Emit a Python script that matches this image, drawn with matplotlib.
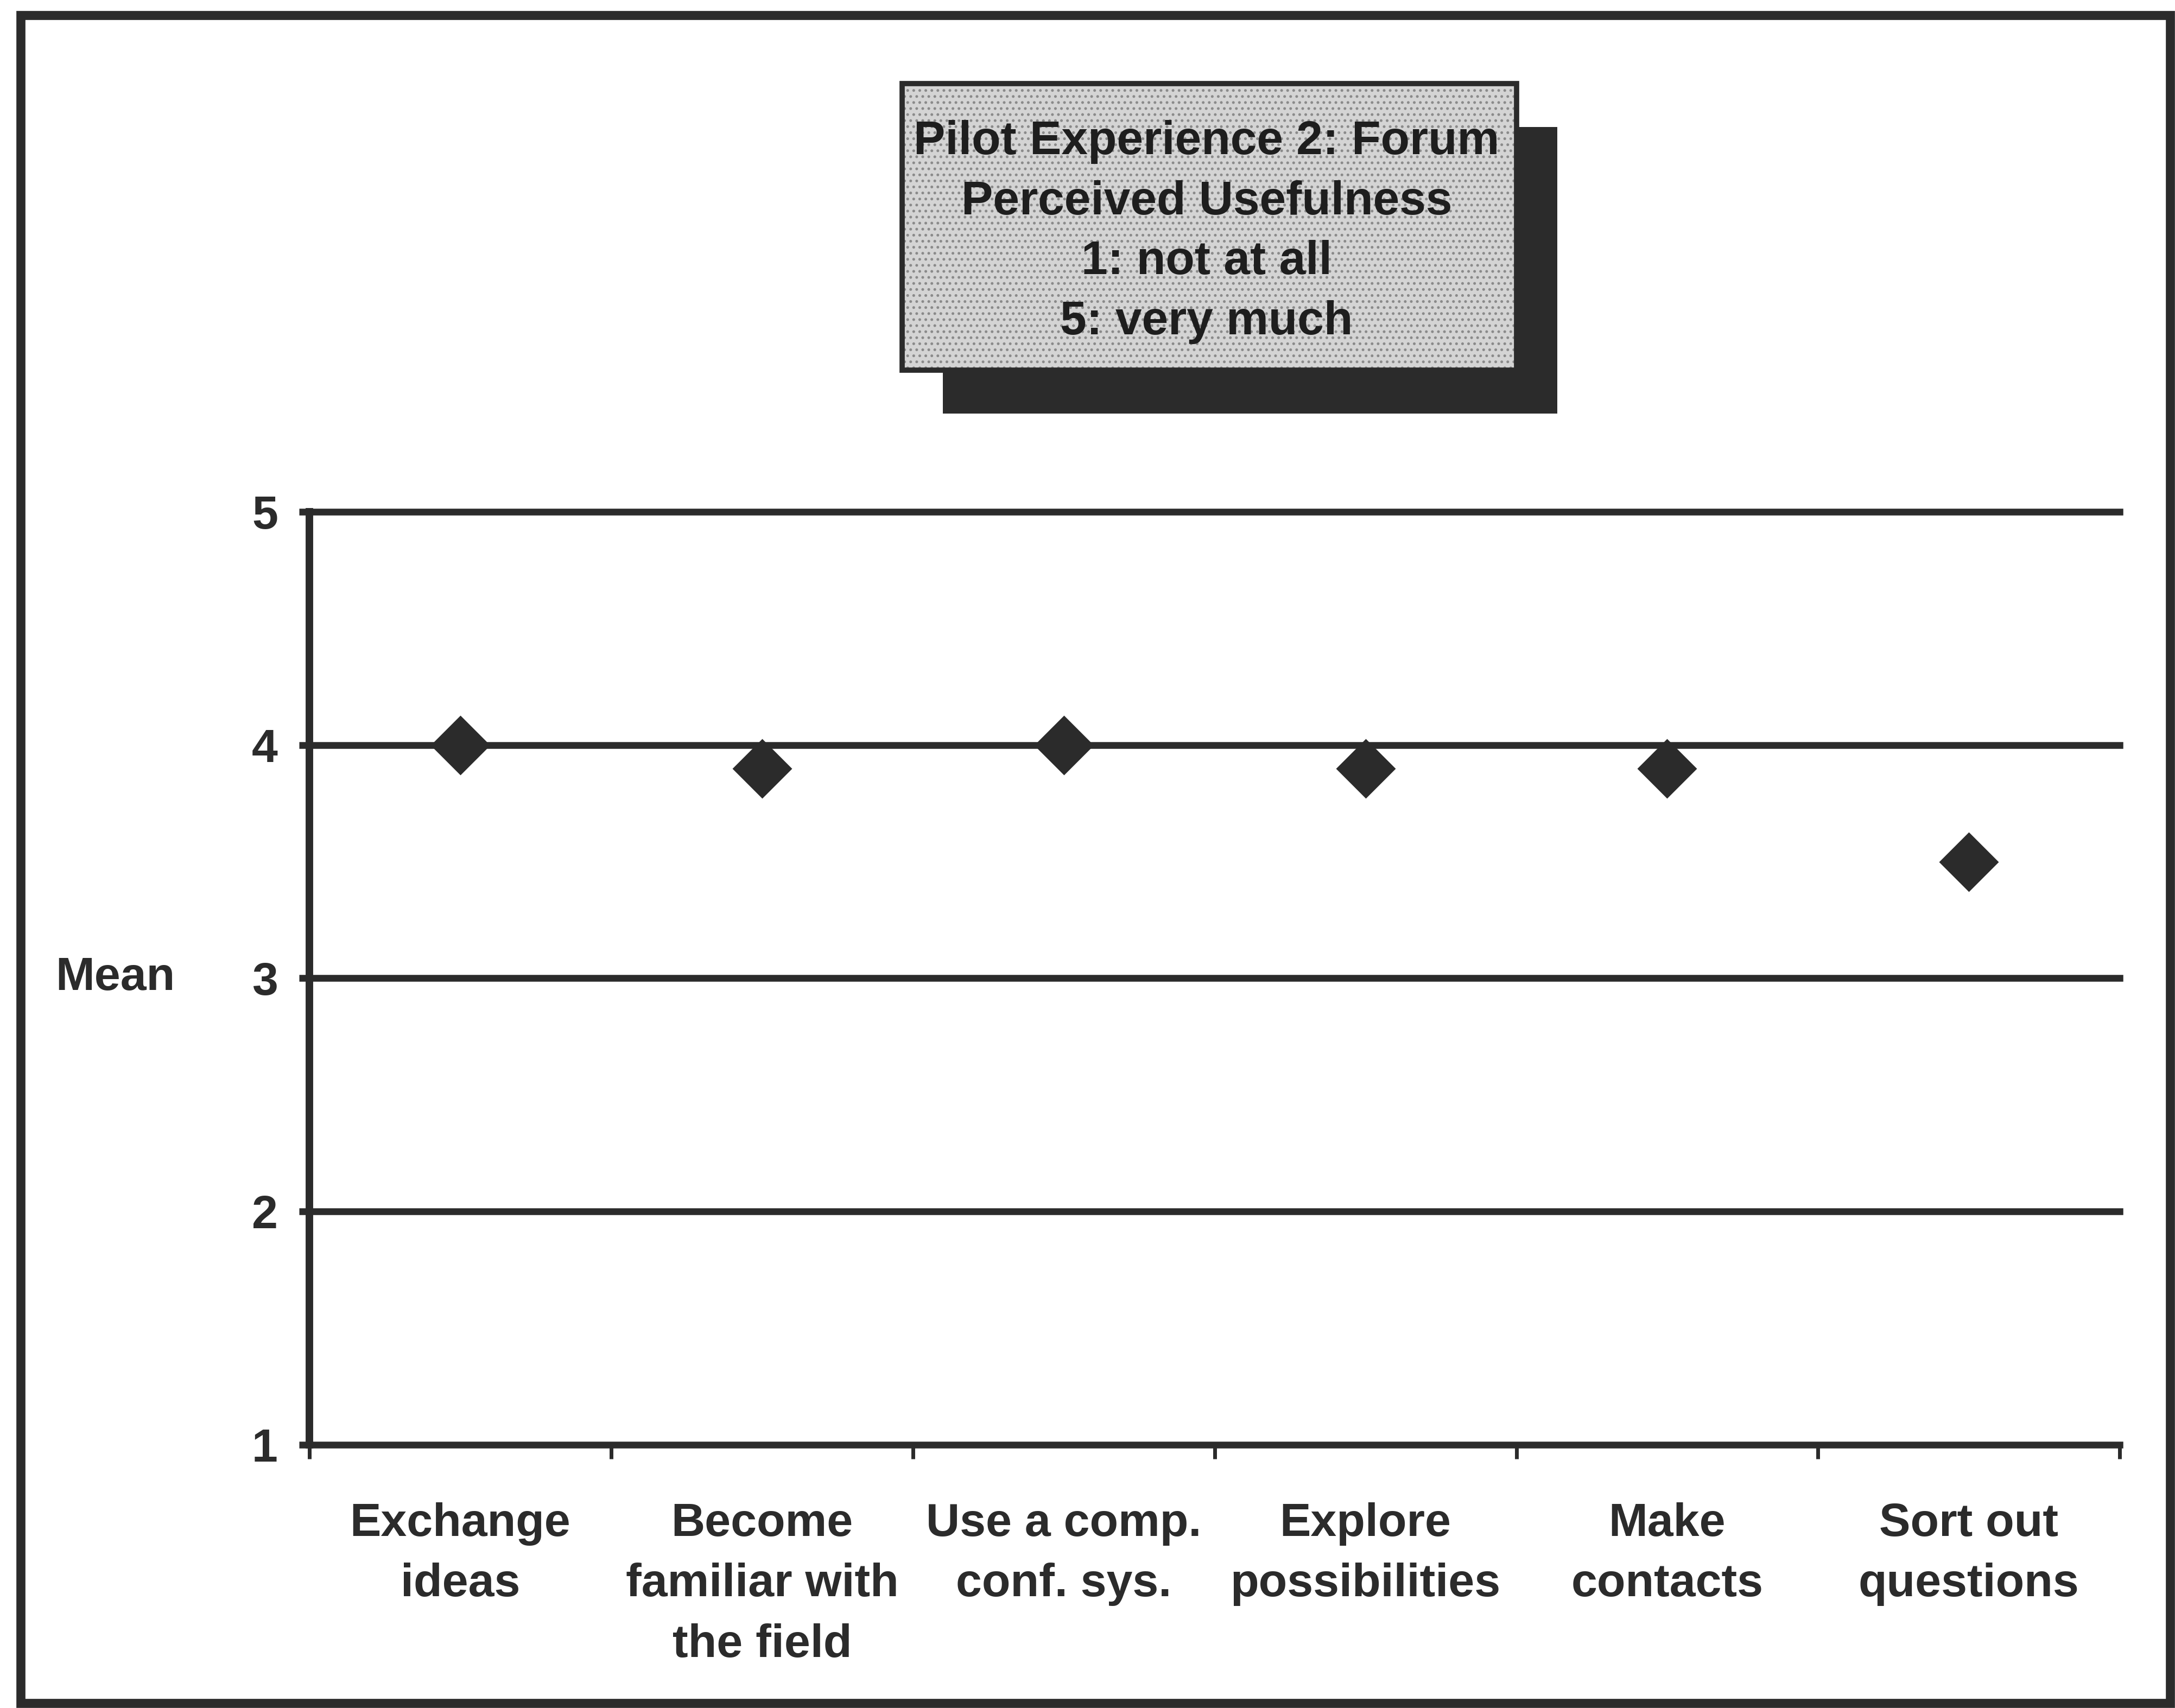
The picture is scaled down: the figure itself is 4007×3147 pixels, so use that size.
import matplotlib
matplotlib.use('Agg')
import matplotlib.pyplot as plt
from matplotlib.patches import Rectangle

# data
categories = ['Exchange\nideas', 'Become\nfamiliar with\nthe field', 'Use a comp.\nconf. sys.',
              'Explore\npossibilities', 'Make\ncontacts', 'Sort out\nquestions']
means = [4.0, 3.9, 4.0, 3.9, 3.9, 3.5]
y_ticks = [1, 2, 3, 4, 5]
title_lines = ['Pilot Experience 2: Forum', 'Perceived Usefulness', '1: not at all', '5: very much']

ink = '#2b2b2b'
plt.rcParams['font.family'] = ['Liberation Sans', 'DejaVu Sans']
plt.rcParams['font.weight'] = 'bold'

fig = plt.figure(figsize=(20.035, 15.735), dpi=200)
ax = fig.add_axes([0.1423, 0.1541, 0.8323, 0.5463])

# markers only, placed in the middle of each category slot
xs = [i + 0.5 for i in range(len(categories))]
ax.plot(xs, means, linestyle='none', marker='D', markersize=27, color=ink, zorder=5)

ax.set_xlim(0, len(categories))
ax.set_ylim(1, 5)
ax.set_yticks(y_ticks)
ax.set_yticklabels([str(t) for t in y_ticks], fontsize=31, fontweight='bold', color=ink)
ax.yaxis.grid(True, color=ink, linewidth=4.5)
for gl in ax.get_ygridlines():
    gl.set_clip_on(False)
ax.set_axisbelow(True)

# tick marks on category boundaries, labels in slot centres
ax.set_xticks(range(len(categories) + 1))
ax.set_xticklabels([])
ax.set_xticks(xs, minor=True)
ax.set_xticklabels(categories, minor=True, fontsize=31, fontweight='bold', color=ink,
                   linespacing=1.51, va='top')
ax.tick_params(axis='x', which='major', direction='out', length=9.5, width=2.5, color=ink)
ax.tick_params(axis='x', which='minor', length=0, pad=38)
ax.tick_params(axis='y', direction='out', length=7, width=4.5, color=ink, pad=14)

for side in ['top', 'right']:
    ax.spines[side].set_visible(False)
ax.spines['left'].set_color(ink)
ax.spines['left'].set_linewidth(5)
ax.spines['bottom'].set_color(ink)
ax.spines['bottom'].set_linewidth(3.5)

ax.set_ylabel('Mean', rotation=0, fontsize=31, fontweight='bold', color=ink, va='center', ha='center')
ax.yaxis.set_label_coords(-0.1073, 0.5)

# title box with drop shadow
bx, by, bw, bh = 0.4148, 0.7833, 0.2825, 0.1678
fig.patches.append(Rectangle((bx + 0.0187, by - 0.0254), bw, bh, transform=fig.transFigure,
                             facecolor=ink, edgecolor='none', zorder=1))
fig.patches.append(Rectangle((bx, by), bw, bh, transform=fig.transFigure,
                             facecolor='#d4d4d4', edgecolor='#8a8a8a', linewidth=0,
                             hatch='...', zorder=2))
fig.patches.append(Rectangle((bx, by), bw, bh, transform=fig.transFigure,
                             facecolor='none', edgecolor=ink, linewidth=3.5, zorder=3))
fig.text(0.5548, by + bh / 2 - 0.003, '\n'.join(title_lines), ha='center', va='center',
         fontsize=31.5, fontweight='bold', color='#1e1e1e', linespacing=1.47, zorder=4)

# outer frame of the figure
fig.patches.append(Rectangle((0.0095, 0.0029), 0.9883, 0.9882, transform=fig.transFigure,
                             facecolor='none', edgecolor=ink, linewidth=6, zorder=6))

fig.savefig('out.png', dpi=200, facecolor='white')
